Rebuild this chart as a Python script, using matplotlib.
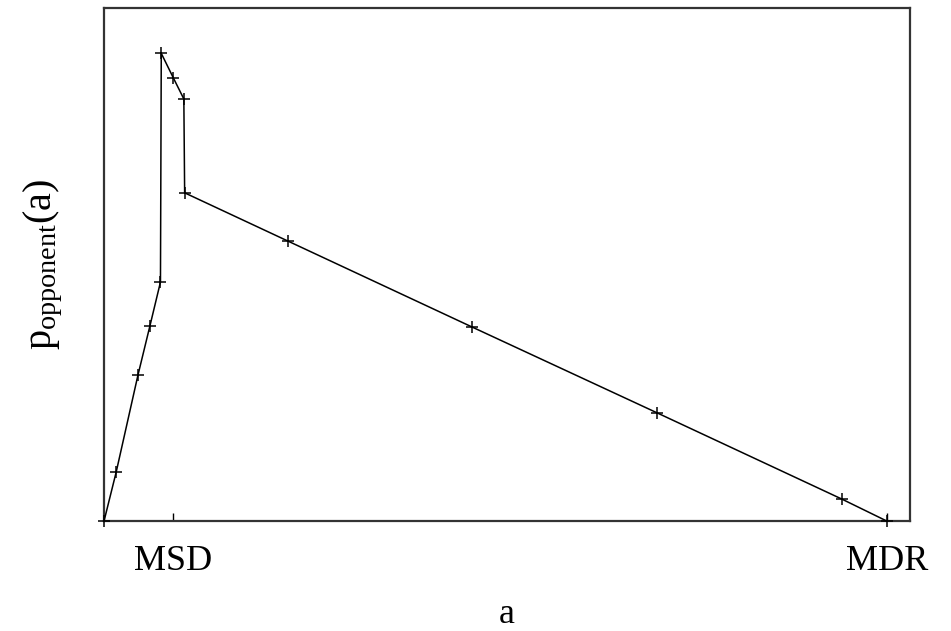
import matplotlib
matplotlib.use('Agg')
import matplotlib.pyplot as plt

plt.rcParams['font.family'] = ['Liberation Serif', 'DejaVu Serif']
plt.rcParams['mathtext.fontset'] = 'custom'
plt.rcParams['mathtext.rm'] = 'Liberation Serif'
plt.rcParams['mathtext.it'] = 'Liberation Serif:italic'

# values (axis scaled 0..1)
a_vals = [0.0, 0.015, 0.042, 0.057, 0.070, 0.071, 0.086, 0.099, 0.100,
          0.228, 0.457, 0.686, 0.915, 0.971]
p_vals = [0.0, 0.095, 0.284, 0.381, 0.466, 0.912, 0.864, 0.823, 0.640,
          0.546, 0.378, 0.211, 0.043, 0.0]
tick_pos = [0.086, 0.971]
tick_labels = ['MSD', 'MDR']

fig = plt.figure(figsize=(9.51, 6.31), dpi=100)
ax = fig.add_axes([0.1094, 0.1743, 0.8476, 0.8127])

ax.plot(a_vals, p_vals, color='black', linewidth=1.1, marker='+',
        markersize=9, markeredgewidth=1.1, clip_on=False, zorder=3)

ax.set_xlim(0, 1)
ax.set_ylim(0, 1)
ax.set_xticks(tick_pos)
ax.set_xticklabels(tick_labels, fontsize=26)
ax.set_yticks([])
ax.tick_params(axis='x', direction='in', length=6, width=1, pad=17)
for s in ax.spines.values():
    s.set_linewidth(1.6)
    s.set_color('#333333')

ax.set_xlabel('a', fontsize=26, labelpad=15)
ax.set_ylabel(r'p$_{\mathrm{opponent}}$(a)', fontsize=29, labelpad=28)

plt.savefig('out.png', dpi=100)
